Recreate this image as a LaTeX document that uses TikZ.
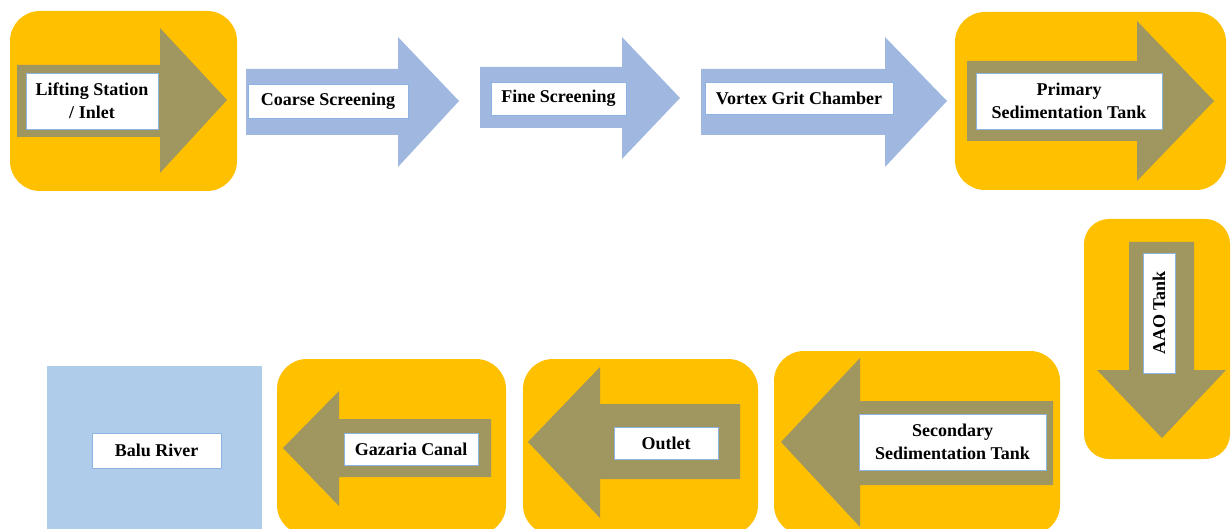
\documentclass[tikz,border=0pt]{standalone}
\usepackage{fontspec}
\setmainfont{Liberation Serif}
\definecolor{tank}{RGB}{255,192,0}
\definecolor{olive}{RGB}{160,150,96}
\definecolor{flow}{RGB}{160,184,224}
\definecolor{river}{RGB}{175,205,234}
\definecolor{tboxline}{RGB}{141,179,226}
\tikzset{
  tankbox/.style={fill=tank, rounded corners=30pt},
  bigarrow/.style={fill=olive},
  flowarrow/.style={fill=flow},
  tbox/.style={fill=white, draw=tboxline, line width=0.8pt, inner sep=0pt, align=center,
    font=\fontsize{18}{23}\selectfont\bfseries}
}
\begin{document}
\begin{tikzpicture}[x=1pt,y=-1pt]
\useasboundingbox (0,0) rectangle (1231,529);
\clip (0,0) rectangle (1231,529);
% background boxes
\fill[tankbox] (10,11) rectangle (237,191);
\fill[tankbox] (955,12) rectangle (1226,190);
\fill[tankbox, rounded corners=25pt] (1084,219) rectangle (1230,459);
\fill[tankbox] (774,351) rectangle (1060,535);
\fill[tankbox] (523,359) rectangle (758,535);
\fill[tankbox] (277,359) rectangle (506,535);
\fill[river] (47,366) rectangle (262,540);
% arrows
\fill[bigarrow] (17,65) -- (160,65) -- (160,28) -- (227,100) -- (160,173) -- (160,137) -- (17,137) -- cycle;
\fill[flowarrow] (246,69) -- (398,69) -- (398,37) -- (459,101) -- (398,167) -- (398,135) -- (246,135) -- cycle;
\fill[flowarrow] (480,67) -- (622,67) -- (622,37) -- (680,98) -- (622,159) -- (622,128) -- (480,128) -- cycle;
\fill[flowarrow] (701,69) -- (885,69) -- (885,37) -- (947,101) -- (885,167) -- (885,135) -- (701,135) -- cycle;
\fill[bigarrow] (967,61) -- (1137,61) -- (1137,21) -- (1214,101) -- (1137,181) -- (1137,141) -- (967,141) -- cycle;
\fill[bigarrow] (1129,242) -- (1194,242) -- (1194,370) -- (1226,370) -- (1162,438) -- (1097,370) -- (1129,370) -- cycle;
\fill[bigarrow] (1053,401) -- (860,401) -- (860,358) -- (781,442) -- (860,527) -- (860,485) -- (1053,485) -- cycle;
\fill[bigarrow] (740,404) -- (600,404) -- (600,367) -- (528,442) -- (600,518) -- (600,479) -- (740,479) -- cycle;
\fill[bigarrow] (491,419) -- (339,419) -- (339,391) -- (283,448) -- (339,506) -- (339,477) -- (491,477) -- cycle;
% labels
\node[tbox, minimum width=132pt, minimum height=56pt] (lift) at (92,101) {Lifting Station\\/ Inlet};
\node[tbox, minimum width=160pt, minimum height=34pt] (coarse) at (328,101) {Coarse Screening};
\node[tbox, minimum width=135pt, minimum height=33pt] (fine) at (558.5,98.5) {Fine Screening};
\node[tbox, minimum width=188pt, minimum height=32pt] (vortex) at (799,98) {Vortex Grit Chamber};
\node[tbox, minimum width=186pt, minimum height=56pt] (primary) at (1069,101) {Primary\\Sedimentation Tank};
\node[tbox, rotate=90, minimum width=120pt, minimum height=32pt] (aao) at (1159,313) {AAO Tank};
\node[tbox, minimum width=187pt, minimum height=56pt] (secondary) at (952.5,442) {Secondary\\Sedimentation Tank};
\node[tbox, minimum width=104pt, minimum height=32pt] (outlet) at (666,443) {Outlet};
\node[tbox, minimum width=134pt, minimum height=32pt] (gazaria) at (411,449) {Gazaria Canal};
\node[tbox, minimum width=129pt, minimum height=35pt] (balu) at (156.5,450.5) {Balu River};
\end{tikzpicture}
\end{document}
